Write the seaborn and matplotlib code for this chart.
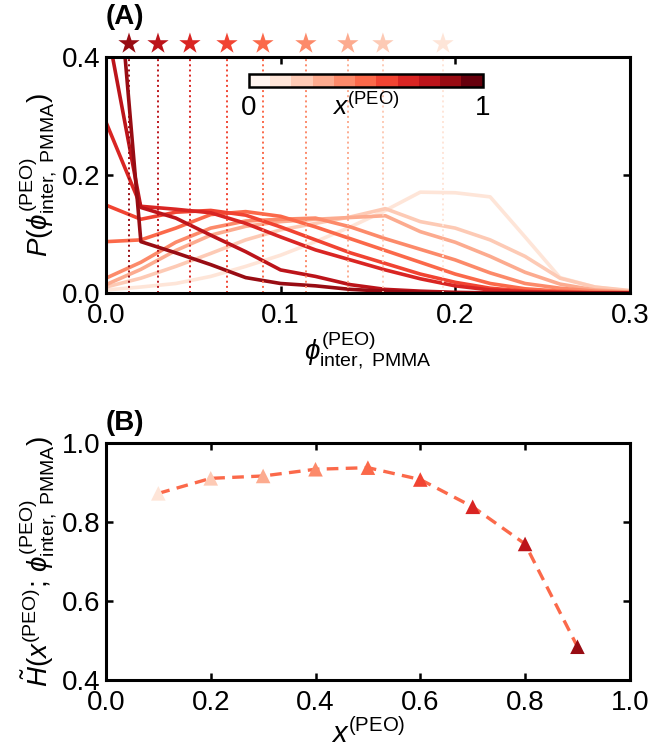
import numpy as np
import pandas as pd
import matplotlib
matplotlib.use("Agg")
import matplotlib.pyplot as plt
import seaborn as sns
from matplotlib.colors import ListedColormap
from matplotlib.cm import ScalarMappable

# --- data ---
x_peo = [0.1, 0.2, 0.3, 0.4, 0.5, 0.6, 0.7, 0.8, 0.9]
phi_grid = [0.00, 0.02, 0.04, 0.06, 0.08, 0.10, 0.12, 0.14,
            0.16, 0.18, 0.20, 0.22, 0.24, 0.26, 0.28, 0.30]

p_01 = [0.005, 0.010, 0.016, 0.028, 0.045, 0.064, 0.087, 0.112, 0.140, 0.171, 0.170, 0.163, 0.095, 0.026, 0.010, 0.003]
p_02 = [0.010, 0.025, 0.045, 0.067, 0.090, 0.107, 0.118, 0.129, 0.143, 0.121, 0.110, 0.090, 0.062, 0.025, 0.010, 0.004]
p_03 = [0.014, 0.040, 0.072, 0.098, 0.113, 0.121, 0.125, 0.128, 0.131, 0.104, 0.086, 0.062, 0.035, 0.015, 0.005, 0.002]
p_04 = [0.025, 0.052, 0.086, 0.110, 0.122, 0.125, 0.127, 0.112, 0.092, 0.074, 0.056, 0.034, 0.016, 0.008, 0.003, 0.001]
p_05 = [0.087, 0.090, 0.110, 0.133, 0.138, 0.130, 0.112, 0.092, 0.072, 0.052, 0.032, 0.016, 0.007, 0.003, 0.001, 0.000]
p_06 = [0.149, 0.125, 0.137, 0.140, 0.132, 0.112, 0.090, 0.068, 0.050, 0.032, 0.018, 0.008, 0.003, 0.001, 0.000, 0.000]
p_07 = [0.290, 0.147, 0.142, 0.136, 0.118, 0.095, 0.073, 0.056, 0.039, 0.024, 0.012, 0.005, 0.002, 0.001, 0.000, 0.000]
p_08 = [0.460, 0.145, 0.127, 0.098, 0.070, 0.039, 0.028, 0.014, 0.006, 0.003, 0.001, 0.000, 0.000, 0.000, 0.000, 0.000]
p_09 = [0.780, 0.087, 0.068, 0.048, 0.026, 0.016, 0.012, 0.006, 0.003, 0.001, 0.000, 0.000, 0.000, 0.000, 0.000, 0.000]
p_all = [p_01, p_02, p_03, p_04, p_05, p_06, p_07, p_08, p_09]

# mean phi for each composition (stars + dotted lines)
phi_mean = [0.193, 0.1586, 0.1385, 0.1145, 0.0899, 0.0693, 0.0481, 0.0298, 0.0132]

# panel B
h_tilde = [0.872, 0.910, 0.916, 0.933, 0.937, 0.907, 0.838, 0.744, 0.484]

# --- style ---
sns.set_theme(style="ticks")
plt.rcParams['font.family'] = ['Liberation Sans', 'DejaVu Sans']
plt.rcParams['mathtext.fontset'] = 'custom'
plt.rcParams['mathtext.rm'] = 'Liberation Sans'
plt.rcParams['mathtext.it'] = 'Liberation Sans:italic'
plt.rcParams['mathtext.bf'] = 'Liberation Sans:bold'
for k in ['text.color', 'axes.labelcolor', 'axes.edgecolor', 'xtick.color', 'ytick.color']:
    plt.rcParams[k] = 'black'
plt.rcParams['axes.linewidth'] = 2.2
plt.rcParams['xtick.direction'] = 'in'
plt.rcParams['ytick.direction'] = 'in'
plt.rcParams['xtick.major.size'] = 5
plt.rcParams['ytick.major.size'] = 5
plt.rcParams['xtick.major.width'] = 1.8
plt.rcParams['ytick.major.width'] = 1.8
plt.rcParams['xtick.top'] = True
plt.rcParams['ytick.right'] = True

reds = plt.get_cmap('Reds')
colors = [reds(v) for v in x_peo]

fig = plt.figure(figsize=(6.5, 7.53), dpi=100)
axA = fig.add_axes([0.163, 0.611, 0.806, 0.313])
axB = fig.add_axes([0.163, 0.097, 0.806, 0.315])

# ---- panel A ----
rows = []
for xv, pv in zip(x_peo, p_all):
    for ph, p in zip(phi_grid, pv):
        rows.append((xv, ph, p))
dfA = pd.DataFrame(rows, columns=['x_peo', 'phi', 'P'])
sns.lineplot(data=dfA, x='phi', y='P', hue='x_peo', palette=colors,
             legend=False, lw=2.6, ax=axA)

axA.vlines(phi_mean, 0, 0.4, colors=colors, linestyles=':', lw=1.4)
dfS = pd.DataFrame({'phi': phi_mean, 'y': [0.423] * 9, 'x_peo': x_peo})
sns.scatterplot(data=dfS, x='phi', y='y', hue='x_peo', palette=colors,
                marker='*', s=260, linewidth=0, legend=False,
                clip_on=False, ax=axA, zorder=5)

axA.set_xlim(0, 0.3)
axA.set_ylim(0, 0.4)
axA.set_xticks([0.0, 0.1, 0.2, 0.3])
axA.set_yticks([0.0, 0.2, 0.4])
axA.set_xticklabels(['0.0', '0.1', '0.2', '0.3'])
axA.set_yticklabels(['0.0', '0.2', '0.4'])
axA.tick_params(axis='y', labelsize=20, pad=4)
axA.tick_params(axis='x', labelsize=20, pad=7)
axA.set_xlabel(r'$\phi^{\mathrm{(PEO)}}_{\mathrm{inter,\ PMMA}}$', fontsize=20, labelpad=0)
axA.set_ylabel(r'$P(\phi^{\mathrm{(PEO)}}_{\mathrm{inter,\ PMMA}})$', fontsize=20, labelpad=2)
axA.text(0.0, 1.115, '(A)', transform=axA.transAxes, fontsize=20,
         fontweight='bold', ha='left', va='bottom')

# discrete colour bar
cax = axA.inset_axes([0.273, 0.873, 0.446, 0.055])
cmap11 = ListedColormap(reds(np.linspace(0, 1, 11)))
sm = ScalarMappable(cmap=cmap11, norm=plt.Normalize(0, 1))
cb = fig.colorbar(sm, cax=cax, orientation='horizontal')
cb.set_ticks([])
cb.outline.set_linewidth(1.8)
cax.tick_params(top=False, bottom=False)
cax.text(0.0, -0.6, '0', transform=cax.transAxes, fontsize=20, ha='center', va='top')
cax.text(1.0, -0.6, '1', transform=cax.transAxes, fontsize=20, ha='center', va='top')
cax.text(0.5, -0.45, r'$x^{\mathrm{(PEO)}}$', transform=cax.transAxes, fontsize=19,
         ha='center', va='top')

# ---- panel B ----
dfB = pd.DataFrame({'x_peo': x_peo, 'H': h_tilde})
sns.lineplot(data=dfB, x='x_peo', y='H', color=reds(0.5), lw=2.4, ax=axB)
axB.lines[-1].set_linestyle((0, (3.5, 2.2)))
sns.scatterplot(data=dfB, x='x_peo', y='H', hue='x_peo', palette=colors,
                marker='^', s=110, linewidth=0, legend=False, ax=axB, zorder=5)
axB.set_xlim(0, 1)
axB.set_ylim(0.4, 1.0)
axB.set_xticks([0.0, 0.2, 0.4, 0.6, 0.8, 1.0])
axB.set_yticks([0.4, 0.6, 0.8, 1.0])
axB.set_xticklabels(['0.0', '0.2', '0.4', '0.6', '0.8', '1.0'])
axB.set_yticklabels(['0.4', '0.6', '0.8', '1.0'])
axB.tick_params(axis='y', labelsize=20, pad=4)
axB.tick_params(axis='x', labelsize=20, pad=7)
axB.set_xlabel(r'$x^{\mathrm{(PEO)}}$', fontsize=21, labelpad=2)
axB.set_ylabel(r'$\tilde{H}(x^{\mathrm{(PEO)}};\,\phi^{\mathrm{(PEO)}}_{\mathrm{inter,\ PMMA}})$',
               fontsize=20, labelpad=2)
axB.text(0.0, 1.03, '(B)', transform=axB.transAxes, fontsize=20,
         fontweight='bold', ha='left', va='bottom')

fig.savefig('out.png', dpi=100)
